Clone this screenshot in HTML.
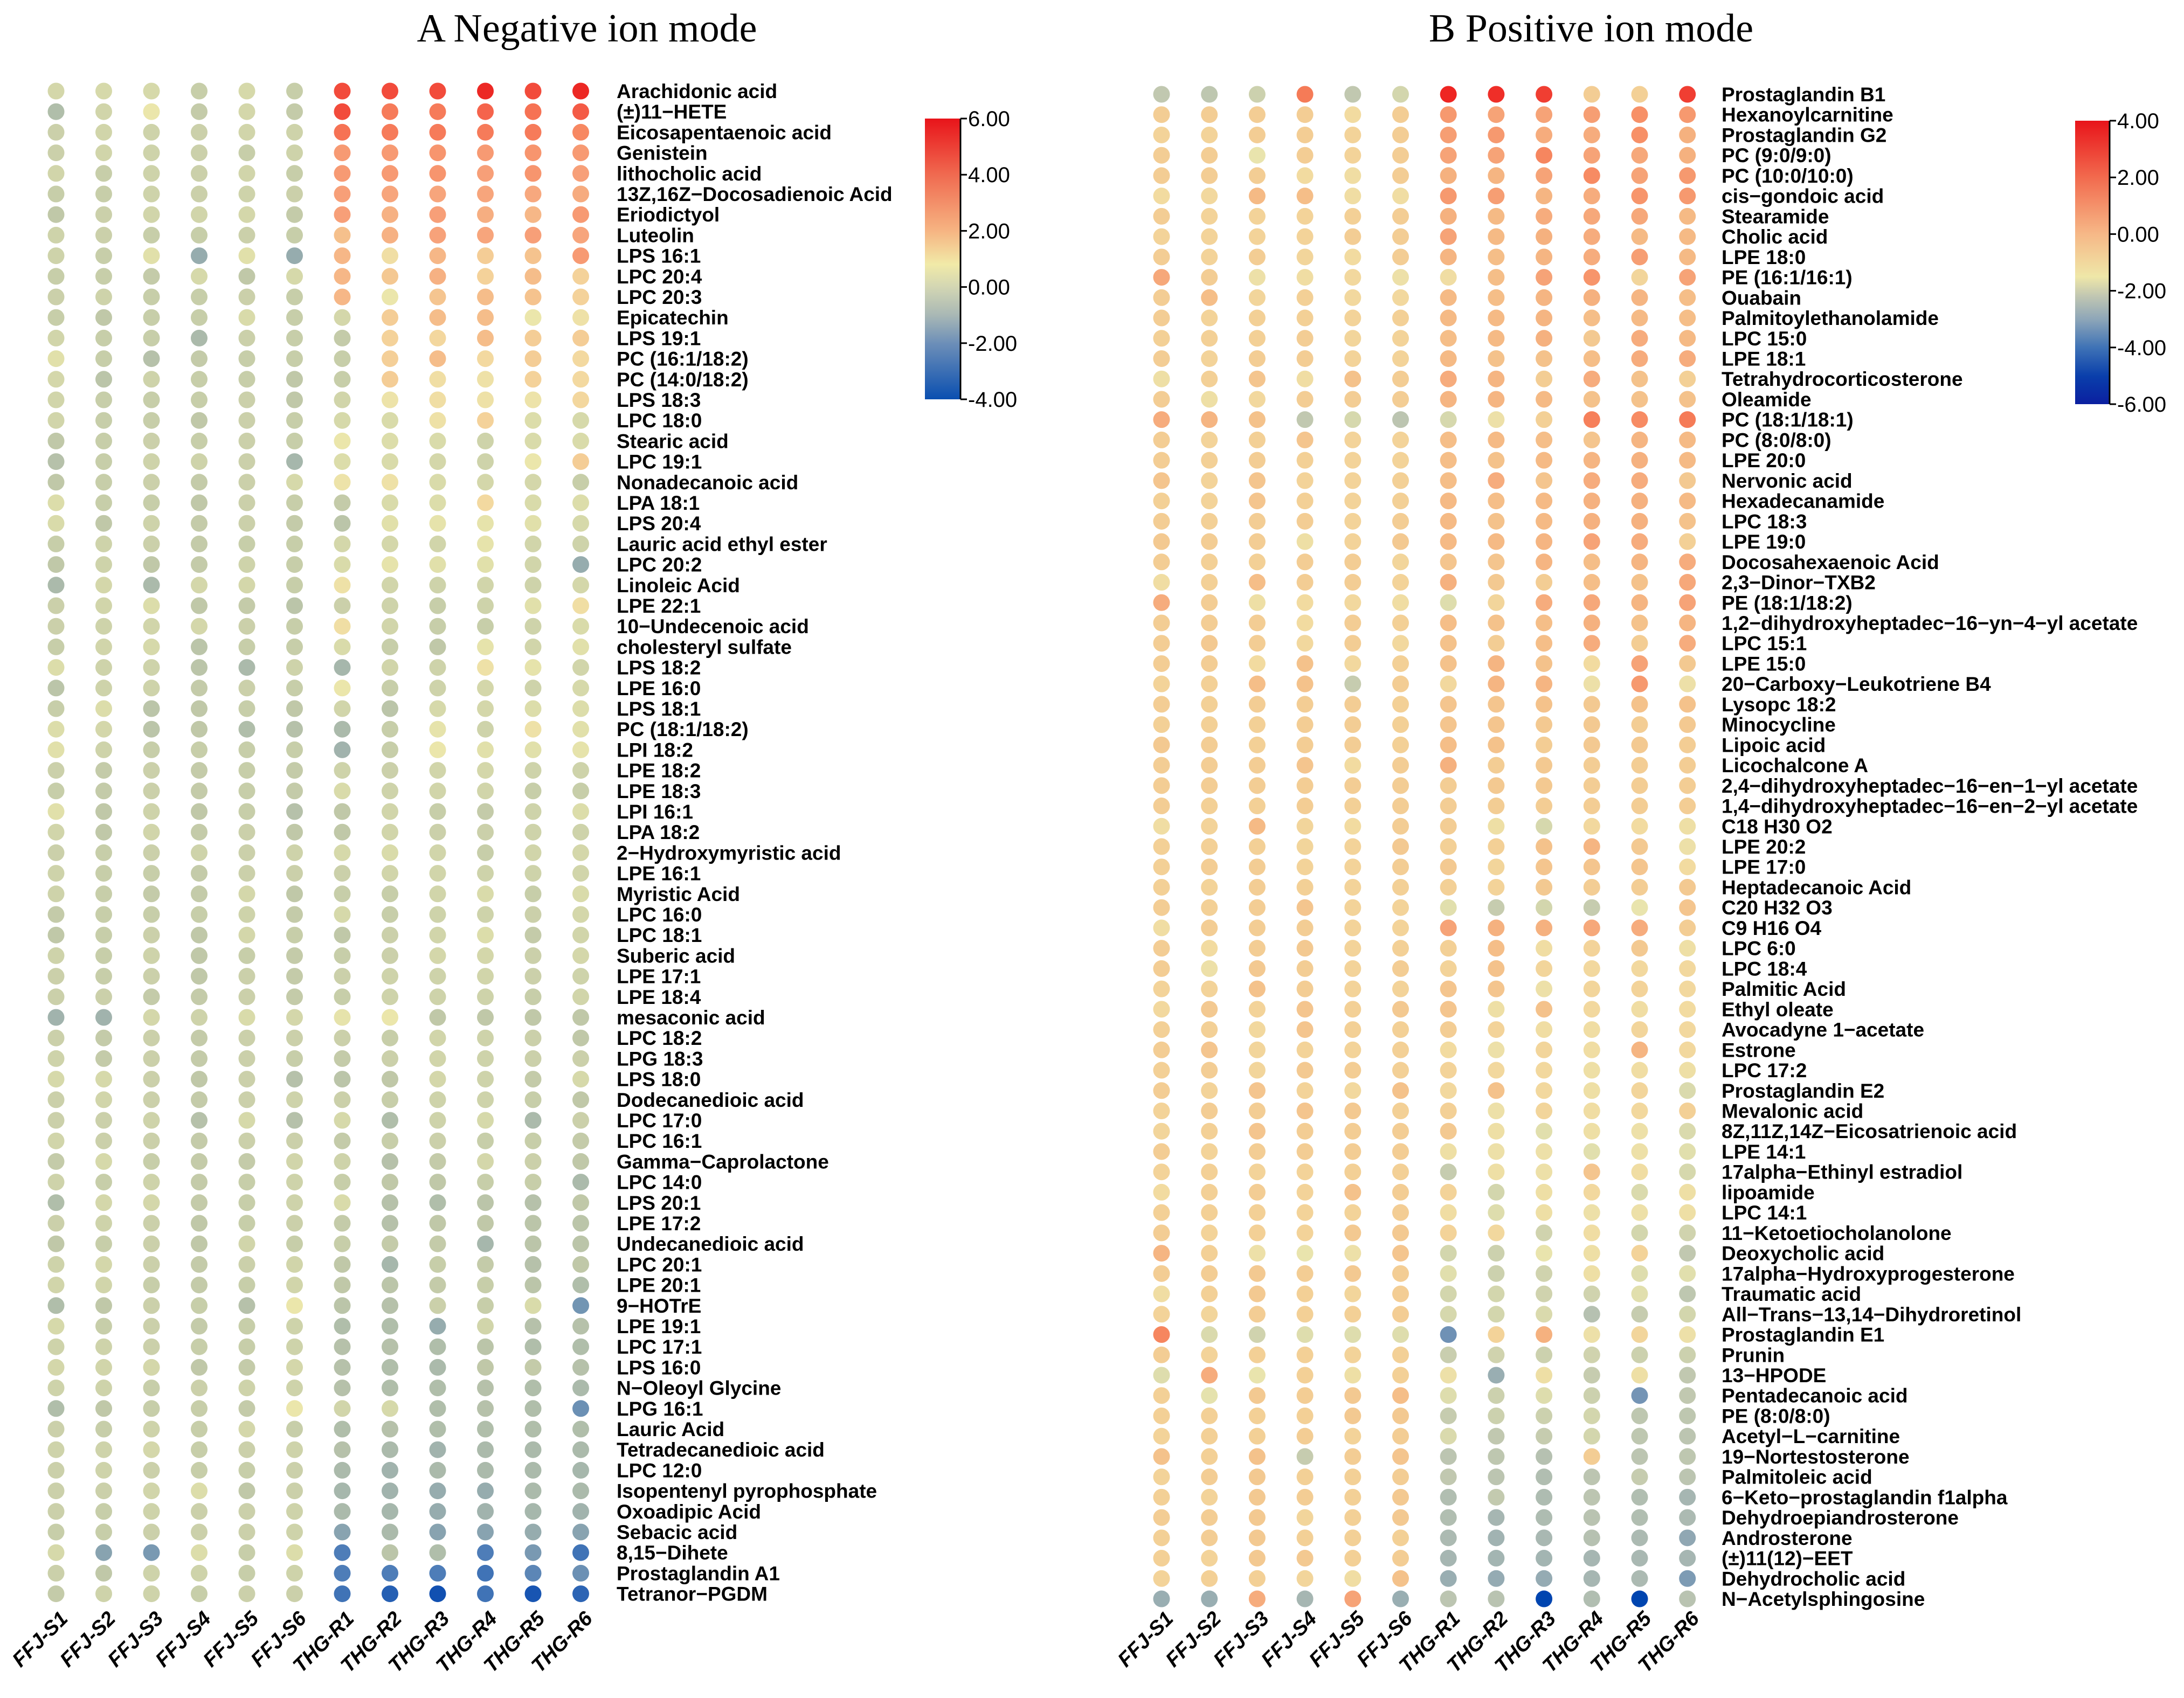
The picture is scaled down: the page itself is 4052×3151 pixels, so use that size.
<!DOCTYPE html>
<html><head><meta charset="utf-8"><style>
html,body{margin:0;padding:0;background:#fff;}
svg{display:block;}
.lbl{font-family:"Liberation Sans",Arial,sans-serif;font-weight:bold;font-size:37px;fill:#000;}
.tick{font-family:"Liberation Sans",Arial,sans-serif;font-size:40px;fill:#000;}
.xl{font-family:"Liberation Sans",Arial,sans-serif;font-weight:bold;font-style:italic;font-size:38px;fill:#000;}
.title{font-family:"Liberation Serif","Times New Roman",serif;font-size:74px;fill:#000;}
</style></head><body>
<svg id="chart" width="4052" height="3151" viewBox="0 0 4052 3151" xmlns="http://www.w3.org/2000/svg">
<defs>
<linearGradient id="gL" x1="0" y1="0" x2="0" y2="1">
<stop offset="0%" stop-color="#e8141a"/><stop offset="20%" stop-color="#f06a50"/><stop offset="40%" stop-color="#f6b482"/><stop offset="52%" stop-color="#f1eaa8"/><stop offset="60%" stop-color="#d3d6b3"/><stop offset="70%" stop-color="#a9b8b5"/><stop offset="80%" stop-color="#6d8fb8"/><stop offset="100%" stop-color="#0a4fb0"/>
</linearGradient>
<linearGradient id="gR" x1="0" y1="0" x2="0" y2="1">
<stop offset="0%" stop-color="#e8141a"/><stop offset="20%" stop-color="#f26a4e"/><stop offset="40%" stop-color="#f6b887"/><stop offset="55%" stop-color="#efe7a8"/><stop offset="62%" stop-color="#c0c6b2"/><stop offset="70%" stop-color="#8ea6b8"/><stop offset="80%" stop-color="#3f73b6"/><stop offset="90%" stop-color="#0a3fab"/><stop offset="100%" stop-color="#0b1fa0"/>
</linearGradient>
</defs>
<text class="title" x="1089" y="77" text-anchor="middle">A Negative ion mode</text>
<text class="title" x="2952" y="77" text-anchor="middle">B Positive ion mode</text>
<g id="left"></g><g id="right"></g>
</svg>
<script>
const samples = ["FFJ-S1","FFJ-S2","FFJ-S3","FFJ-S4","FFJ-S5","FFJ-S6","THG-R1","THG-R2","THG-R3","THG-R4","THG-R5","THG-R6"];
const negMetabolites = ["Arachidonic acid","(±)11\u2212HETE","Eicosapentaenoic acid","Genistein","lithocholic acid","13Z,16Z\u2212Docosadienoic Acid","Eriodictyol","Luteolin","LPS 16:1","LPC 20:4","LPC 20:3","Epicatechin","LPS 19:1","PC (16:1/18:2)","PC (14:0/18:2)","LPS 18:3","LPC 18:0","Stearic acid","LPC 19:1","Nonadecanoic acid","LPA 18:1","LPS 20:4","Lauric acid ethyl ester","LPC 20:2","Linoleic Acid","LPE 22:1","10\u2212Undecenoic acid","cholesteryl sulfate","LPS 18:2","LPE 16:0","LPS 18:1","PC (18:1/18:2)","LPI 18:2","LPE 18:2","LPE 18:3","LPI 16:1","LPA 18:2","2\u2212Hydroxymyristic acid","LPE 16:1","Myristic Acid","LPC 16:0","LPC 18:1","Suberic acid","LPE 17:1","LPE 18:4","mesaconic acid","LPC 18:2","LPG 18:3","LPS 18:0","Dodecanedioic acid","LPC 17:0","LPC 16:1","Gamma\u2212Caprolactone","LPC 14:0","LPS 20:1","LPE 17:2","Undecanedioic acid","LPC 20:1","LPE 20:1","9\u2212HOTrE","LPE 19:1","LPC 17:1","LPS 16:0","N\u2212Oleoyl Glycine","LPG 16:1","Lauric Acid","Tetradecanedioic acid","LPC 12:0","Isopentenyl pyrophosphate","Oxoadipic Acid","Sebacic acid","8,15\u2212Dihete","Prostaglandin A1","Tetranor\u2212PGDM"];
const negValues = [
[-0.6,-0.5,-0.5,-1,-0.5,-1,5,5,5,5.8,5,5.8],
[-1.5,-0.7,0,-1.1,-0.6,-1.1,5,3.8,3.8,4.3,4,4.5],
[-0.9,-0.7,-0.8,-0.9,-0.7,-0.8,4,3.8,3.8,3.8,3.8,3.5],
[-0.9,-0.7,-0.8,-0.9,-1,-0.8,2.8,2.8,3,2.8,3,2.8],
[-0.7,-1,-0.8,-0.9,-0.7,-1,2.8,2.8,3,2.6,3,2.6],
[-1,-1,-0.8,-0.9,-0.8,-0.9,2.6,2.4,2.4,2.4,2.3,2.2],
[-1.2,-0.9,-0.7,-0.7,-0.6,-1.1,2.6,2,2.6,2.1,1.8,2.8],
[-0.8,-0.9,-1,-1,-0.9,-1,1.5,2,2.5,2.4,2.6,2.4],
[-0.8,-1,-0.2,-2,-0.2,-2,1.8,0.3,1.8,1,1.4,2.8],
[-1,-1,-1.1,-0.5,-1.2,-0.5,1.8,1.2,2,0.8,1.6,0.8],
[-0.9,-0.8,-1,-1,-0.9,-1,1.8,0,1.3,1.6,1.4,0.8],
[-1,-1.2,-1,-1,-0.4,-1,-0.6,1,1.6,1.6,0,0.2],
[-0.7,-1,-1,-1.6,-0.9,-1,-1.1,0.8,0.6,1.6,1,1],
[-0.2,-1,-1.4,-1.1,-1,-1,-1,0.9,1.6,0.5,1,0.5],
[-0.6,-1.3,-0.8,-1,-1,-1.2,-1,1,0.3,0.2,0.8,0.5],
[-0.7,-1,-1,-1,-0.9,-1.2,-0.7,0.1,0.3,0.2,0.1,0.6],
[-0.7,-1,-1,-1.2,-0.9,-1,-0.5,-0.4,0.2,0.8,-0.3,-0.5],
[-1.2,-1,-0.9,-1,-0.9,-1,0,-0.3,-0.4,-0.8,-0.4,-0.4],
[-1.4,-1,-0.8,-0.8,-0.9,-1.7,-0.3,-0.4,-0.6,-0.8,0,1],
[-1.2,-1,-0.9,-1.1,-0.9,-0.5,0.1,0.2,-0.4,-0.6,-0.6,-1],
[-0.3,-1,-1,-1.2,-0.9,-1,-1.1,-0.4,-0.3,0.5,-0.4,-0.3],
[-0.4,-1.2,-0.8,-1.1,-0.9,-1.1,-1.3,-0.2,-0.1,-0.1,-0.2,-0.5],
[-1,-0.8,-0.9,-1.1,-1,-1,-0.6,-0.6,-0.7,-0.1,-0.7,-0.8],
[-1.2,-0.8,-1.2,-1.1,-0.8,-1,-0.4,-0.1,-0.2,-0.2,-0.7,-2],
[-1.6,-0.6,-1.6,-0.6,-0.6,-1,0.2,-0.7,-0.8,-0.7,-0.8,-0.6],
[-0.9,-0.7,-0.3,-1.2,-1.1,-1.3,-0.9,-0.8,-1,-0.8,-0.2,0.3],
[-0.9,-0.8,-0.7,-0.6,-0.9,-1,0.3,-0.7,-1,-1,-0.8,-0.4],
[-1,-0.7,-0.5,-1.3,-1,-1,-0.4,-1,-1.2,-0.1,-0.7,-0.2],
[-0.3,-0.8,-0.8,-1.3,-1.6,-0.8,-1.7,-0.7,-0.8,0.2,-0.1,-0.7],
[-1.3,-0.8,-0.8,-1.1,-0.9,-1,0,-1,-0.8,-0.6,-0.8,-0.5],
[-1,-0.3,-1.3,-1.2,-1,-1.2,-0.7,-1.3,-0.5,-0.6,-0.3,-0.3],
[-0.3,-0.6,-1.3,-1.2,-1.5,-1.4,-1.6,-1,-0.1,-0.8,0.2,-0.2],
[-0.2,-0.8,-1,-1,-1,-1,-1.8,-1,0,-0.2,-0.2,-0.1],
[-0.9,-1.1,-0.9,-1.1,-1,-1.1,-0.8,-0.9,-0.7,-0.6,-0.8,-0.8],
[-1,-1.1,-0.9,-1.1,-1,-1.1,-0.4,-0.8,-0.7,-0.7,-1,-1],
[-0.2,-1.2,-0.8,-1.2,-1,-1.4,-1.2,-0.7,-1,-1.1,-0.8,-0.3],
[-0.7,-1.2,-0.7,-1.1,-0.9,-1.2,-1.2,-0.7,-0.9,-0.9,-0.8,-0.8],
[-0.9,-1,-0.9,-0.8,-0.9,-0.8,-0.5,-0.4,-0.7,-1,-0.7,-0.6],
[-0.8,-1,-1,-1.1,-0.9,-0.9,-0.9,-0.7,-0.7,-0.8,-0.8,-0.7],
[-0.8,-1,-1.1,-1.1,-0.6,-1.2,-1,-1,-0.7,-0.4,-1,-0.4],
[-1.1,-1,-1,-1,-0.8,-1.1,-0.5,-1,-0.8,-0.8,-0.9,-0.6],
[-1.2,-1,-0.9,-1.2,-0.6,-1,-1.2,-0.9,-0.7,-0.3,-1.1,-0.7],
[-0.8,-1,-0.8,-1.2,-1,-1.1,-1,-0.9,-0.6,-0.6,-0.9,-0.6],
[-0.9,-1,-0.9,-1.2,-0.9,-1.1,-0.9,-0.8,-0.8,-0.7,-0.9,-0.8],
[-0.9,-0.9,-1.1,-1.1,-0.9,-1.1,-1,-0.8,-0.8,-0.8,-1,-0.7],
[-1.8,-1.8,-0.6,-0.8,-0.4,-0.6,-0.1,0,-1.2,-1.2,-1.2,-1.2],
[-0.9,-1.1,-0.9,-1.1,-0.9,-0.9,-0.9,-1,-0.7,-0.8,-0.9,-1.2],
[-0.8,-1.1,-0.9,-1.1,-0.9,-1,-1.1,-0.9,-0.7,-0.8,-0.9,-0.9],
[-0.5,-0.5,-0.9,-1.2,-0.9,-1.4,-1.3,-1.2,-0.6,-0.8,-1.1,-0.5],
[-0.9,-0.7,-0.9,-1.1,-0.9,-0.8,-0.9,-1,-0.8,-0.8,-1,-1.2],
[-0.9,-0.9,-0.8,-1.4,-0.5,-1.4,-0.5,-1.5,-0.8,-0.5,-1.6,-0.9],
[-0.7,-0.9,-0.9,-1.1,-0.9,-0.9,-1.1,-1,-0.9,-1,-1,-1.1],
[-1.1,-0.5,-1,-1.1,-1.1,-0.7,-0.8,-1.4,-1.1,-0.6,-0.9,-1.2],
[-0.8,-1,-0.8,-1.1,-1,-0.8,-1,-1.2,-1.2,-1,-1,-1.6],
[-1.5,-0.6,-0.6,-1.1,-1,-0.8,-0.4,-1.4,-1.5,-1.3,-1.4,-1.2],
[-0.9,-0.8,-0.9,-1.2,-1,-0.9,-1.1,-1.4,-1.2,-1.2,-1.3,-1.3],
[-1.2,-1,-0.9,-1.2,-0.7,-1,-1,-1.1,-1.1,-1.7,-1.3,-1.3],
[-0.8,-0.6,-0.9,-1.1,-0.9,-0.7,-1.2,-1.7,-1,-1.1,-1.4,-1.2],
[-0.7,-0.7,-1,-1.1,-1,-0.7,-1.2,-1.3,-1.1,-1,-1.3,-1.5],
[-1.5,-1.2,-0.9,-1,-1.4,0,-1.3,-1.4,-0.9,-1,-0.4,-2.5],
[-0.5,-1,-0.9,-1.1,-1,-0.8,-1.5,-1.5,-2,-0.7,-1.4,-1.4],
[-0.8,-0.8,-0.9,-1,-1,-0.8,-1.4,-1.4,-1.5,-1.3,-1.5,-1.5],
[-0.6,-0.7,-0.6,-1.2,-1.1,-0.6,-1.4,-1.5,-1.6,-1.2,-1.1,-1.4],
[-0.8,-0.8,-1,-0.9,-0.8,-0.8,-1.4,-1.5,-1.5,-1.4,-1.5,-1.6],
[-1.5,-1.2,-1,-1,-1.1,0,-0.7,-0.5,-1.5,-1.4,-1.5,-2.6],
[-0.9,-1,-0.8,-1,-0.6,-1,-1.5,-1.4,-1.5,-1.5,-1.5,-1.5],
[-0.8,-0.8,-0.6,-1,-0.9,-0.8,-1.4,-1.6,-1.8,-1.6,-1.6,-1.6],
[-0.9,-0.8,-0.9,-1,-1,-0.9,-1.6,-1.8,-1.6,-1.6,-1.6,-1.7],
[-0.9,-0.9,-0.7,-0.3,-1.2,-0.9,-1.7,-1.8,-2,-2,-1.6,-1.6],
[-0.9,-1,-0.8,-0.9,-0.9,-0.8,-1.6,-1.7,-2,-1.8,-1.7,-1.8],
[-1,-1,-0.9,-0.9,-0.9,-0.8,-2.2,-1.6,-2.2,-2.2,-2,-2.2],
[-0.5,-2.2,-2.4,-0.3,-1,-0.3,-3,-1.3,-1.5,-3,-2.4,-3.2],
[-0.9,-1.2,-0.8,-0.8,-1,-0.8,-3,-3,-3,-3.2,-2.8,-2.6],
[-1.1,-0.8,-0.8,-1,-0.9,-0.9,-3.2,-3.6,-3.9,-3.2,-3.8,-3.5]
];
const posMetabolites = ["Prostaglandin B1","Hexanoylcarnitine","Prostaglandin G2","PC (9:0/9:0)","PC (10:0/10:0)","cis\u2212gondoic acid","Stearamide","Cholic acid","LPE 18:0","PE (16:1/16:1)","Ouabain","Palmitoylethanolamide","LPC 15:0","LPE 18:1","Tetrahydrocorticosterone","Oleamide","PC (18:1/18:1)","PC (8:0/8:0)","LPE 20:0","Nervonic acid","Hexadecanamide","LPC 18:3","LPE 19:0","Docosahexaenoic Acid","2,3\u2212Dinor\u2212TXB2","PE (18:1/18:2)","1,2\u2212dihydroxyheptadec\u221216\u2212yn\u22124\u2212yl acetate","LPC 15:1","LPE 15:0","20\u2212Carboxy\u2212Leukotriene B4","Lysopc 18:2","Minocycline","Lipoic acid","Licochalcone A","2,4\u2212dihydroxyheptadec\u221216\u2212en\u22121\u2212yl acetate","1,4\u2212dihydroxyheptadec\u221216\u2212en\u22122\u2212yl acetate","C18 H30 O2","LPE 20:2","LPE 17:0","Heptadecanoic Acid","C20 H32 O3","C9 H16 O4","LPC 6:0","LPC 18:4","Palmitic Acid","Ethyl oleate","Avocadyne 1\u2212acetate","Estrone","LPC 17:2","Prostaglandin E2","Mevalonic acid","8Z,11Z,14Z\u2212Eicosatrienoic acid","LPE 14:1","17alpha\u2212Ethinyl estradiol","lipoamide","LPC 14:1","11\u2212Ketoetiocholanolone","Deoxycholic acid","17alpha\u2212Hydroxyprogesterone","Traumatic acid","All\u2212Trans\u221213,14\u2212Dihydroretinol","Prostaglandin E1","Prunin","13\u2212HPODE","Pentadecanoic acid","PE (8:0/8:0)","Acetyl\u2212L\u2212carnitine","19\u2212Nortestosterone","Palmitoleic acid","6\u2212Keto\u2212prostaglandin f1alpha","Dehydroepiandrosterone","Androsterone","(±)11(12)\u2212EET","Dehydrocholic acid","N\u2212Acetylsphingosine"];
const posValues = [
[-1.2,-1.3,-0.8,2.8,-1.2,-0.6,3.9,3.8,3.6,1,0.9,3.6],
[1,1,1,1,0.5,1,2.2,2,2,2.1,2.4,2.2],
[0.8,0.8,1,1,0.8,1,2.1,2.2,1.8,1.8,2.4,1.7],
[1,1,0,1,0.8,1,2,2,2.6,2,1.9,1.7],
[1,1,1,0.5,0.4,1,1.7,1.6,2,2.5,2,2.2],
[0.5,0.6,1.5,1.4,0.4,0.4,2.2,2.1,1.6,1.8,2.3,2.2],
[1,0.8,0.8,0.8,0.9,1,1.7,1.5,1.8,1.9,1.9,1.5],
[0.8,0.8,0.8,0.8,1,1,2,1.5,1.7,1.8,1.5,1.5],
[1,0.8,1,0.7,0.5,1,1.6,1.4,1.6,1.8,2.1,1.5],
[1.9,1,0.2,0.4,0.6,0.2,0.4,1.4,2,2.3,0.7,2],
[1,1.4,0.7,0.9,0.6,0.6,1.5,1.4,1.6,1.7,1.6,1.4],
[1,0.8,0.9,0.9,0.8,0.9,1.5,1.5,1.6,1.4,1.5,1.4],
[0.9,0.9,0.9,1,0.7,0.8,1.4,1.5,1.7,1.1,1.8,1.5],
[1,0.8,1,1,0.8,0.8,1.5,1.3,1.3,1.4,1.8,1.8],
[0.3,0.9,1.2,0.4,1.3,1,1.8,1.6,1,1.8,1.3,0.9],
[1,0.3,0.6,1,1,1,1.6,1.6,1.5,1.3,1.3,1.3],
[1.8,1.6,1.3,-1.2,-0.5,-1.4,-0.5,0.2,0.9,2.7,2.5,2.8],
[1,0.8,0.9,1.2,0.8,0.8,1.4,1.5,1.4,1.2,1.6,1.5],
[1,0.9,1,0.9,0.8,0.8,1.4,1.3,1.5,1.6,1.7,1.5],
[1.2,0.8,1.2,0.8,0.8,0.9,1.4,1.8,1.2,1.8,1.8,1.1],
[0.9,0.8,1.2,0.9,0.8,0.9,1.5,1.4,1.5,1.7,1.7,1.5],
[1,0.9,1,1,0.8,1,1.5,1.3,1.5,1.7,1.7,1.3],
[1.1,1,1,0.3,0.8,1.1,1.5,1.5,1.6,2,1.8,0.9],
[1,0.9,0.9,1,1,0.7,1.2,1.2,1.6,1.4,1.6,1.8],
[0.4,0.9,1.4,1,1,0.8,1.7,1.1,1,1.4,1.3,1.9],
[1.8,1,0.3,0.5,0.6,0.4,-0.3,0.7,1.8,1.9,1.6,2],
[1,1,1,0.5,1,0.9,1.4,1.3,1.4,1.7,1.3,1.6],
[1,1.1,1,0.6,1,0.6,1.3,1,1.4,1.8,1,1.8],
[1,1,0.5,1.3,0.6,0.9,1.3,1.6,1.3,0.5,2,1.1],
[0.8,0.9,1.4,1.3,-1,1,0.6,1.6,1.6,0.2,2.2,0.2],
[1,0.9,1,1,1,0.9,1.2,1.2,1.3,1.1,1.3,1.3],
[0.9,0.9,0.9,1,1,0.9,1.2,1.2,1.1,1.1,1,1.1],
[1.1,1,0.9,1,1,0.9,1.4,1.3,1,1.1,1.1,1],
[1,1,1,1.2,0.5,1,1.7,1,1.1,1,1,1],
[1,1,1,1,1,1,1,1.1,1.1,1,1,1],
[1,0.9,0.9,1,0.9,1,1,1,1,1,1,1],
[0.4,0.8,1.5,0.7,0.5,1,1,0.3,-0.5,0.6,0.5,0.3],
[0.9,0.9,0.9,0.7,0.8,1.1,0.9,0.9,1.3,1.6,1.1,0.2],
[0.9,1,1,0.8,0.8,1,1.1,0.7,1.2,1.2,1.2,0.5],
[0.9,0.8,1,0.9,0.8,0.9,0.9,0.8,1.1,1,1,1.1],
[1,0.9,1,1.2,0.8,0.8,-0.2,-1,-0.6,-1,0,1.2],
[0.4,1,1,1,0.8,0.8,2,1.7,1.7,1.9,1.8,1],
[1,0.5,1,1.1,0.8,0.9,0.9,1.4,0.4,0.8,1.1,0.3],
[1,0.2,1.1,1,0.8,1,0.8,1.3,0.7,0.6,0.6,0.6],
[0.8,0.8,1.3,1,0.8,0.8,1.2,1.2,0.2,0.7,0.8,0.6],
[0.6,1.1,0.8,1.2,0.9,1.1,1.2,0.3,1.3,0.6,0.4,0.5],
[0.9,0.9,0.6,1.2,0.9,0.9,1,0.8,0.4,0.4,0.7,0.6],
[1,1.2,0.7,0.8,0.8,0.9,0.5,0.2,0.7,0.4,1.6,0.6],
[0.9,1,0.7,1.1,1,0.9,0.8,0.6,0.6,0.3,0.4,0.3],
[1,0.8,1.2,0.8,0.6,1.3,0.6,1.3,0.6,0.3,0.7,-0.4],
[0.8,1,1,1.2,1.1,0.9,0.9,0.2,0.7,0.4,0.6,0.9],
[0.7,0.9,1.2,1,1,1,1.1,0.3,-0.2,0.3,0.2,-0.4],
[1,0.8,1,1,1,1,0.3,0.2,0.2,-0.2,0.2,-0.2],
[0.8,0.9,0.8,0.8,0.9,0.9,-1,0.3,0.2,1.2,0.4,-0.5],
[0.5,0.9,1,0.8,1.3,1,0.8,-0.6,0.3,0.6,-0.4,0.3],
[0.9,0.9,0.9,0.8,0.8,1,0.4,-0.3,0.3,0.2,0.2,0.3],
[1,0.8,0.9,0.8,1.1,1.1,0.8,0.6,-0.7,0.4,-0.6,-0.7],
[1.6,0.9,0.2,0,0.2,1.2,-0.6,-0.8,0,0.3,0.8,-1.2],
[1,1,1.1,1,1.1,1,-0.2,-0.8,-0.7,0.3,-0.3,-0.2],
[0.4,0.9,1.1,0.9,0.7,1,-0.6,-0.6,-0.7,-0.7,-0.2,-1.3],
[0.8,0.7,1,0.9,0.9,1,-0.5,-0.6,-0.4,-1.6,-1,-0.6],
[2.6,-0.4,-0.7,-0.3,-0.3,-0.3,-3.5,0.8,1.7,0.2,0.7,0.2],
[1,0.8,0.9,0.9,0.8,0.9,-0.9,-0.7,-0.8,-0.7,-0.8,-0.8],
[-0.3,1.8,0,0.9,0.3,0.9,0.2,-2.6,0.3,-1,0.3,-1.2],
[0.9,-0.1,1.1,1,1.1,1.4,-0.3,-0.8,-0.3,-0.8,-3.4,-1.2],
[0.9,0.9,0.9,0.9,1.1,1.1,-1,-0.8,-0.8,-0.6,-1.3,-1.3],
[0.8,0.9,0.9,1,0.8,1,-0.4,-1.2,-1,-0.6,-1.3,-1.4],
[1.3,0.9,1.3,-1,1,1.2,-1.4,-1.3,-1.6,1,-1.4,-1.3],
[0.8,1,1.1,0.9,0.9,1,-1.2,-1.4,-1.8,-1.4,-1,-1.4],
[0.9,0.8,1.1,1,0.9,1.1,-1.8,-1.1,-1.9,-1.4,-1.8,-2.2],
[1,1,1.1,0.7,0.9,1.1,-1.8,-2.2,-1.9,-1.5,-1.8,-2],
[0.9,1,1.1,0.9,0.9,0.9,-2,-2.4,-2.1,-1.6,-2,-2.8],
[0.9,0.8,1.1,1.1,0.9,1,-2.2,-2.3,-2.3,-2.2,-2.1,-2.2],
[0.8,0.9,0.9,0.7,0.4,1.3,-2.6,-2.7,-2.7,-2.2,-2,-3.2],
[-2.6,-2.6,1.8,-2.2,2,-2.6,-1.4,-1.5,-6,-1.8,-6,-1.5]
];
const negTicks = [6,4,2,0,-2,-4];
const posTicks = [4,2,0,-2,-4,-6];

const NS = "http://www.w3.org/2000/svg";
const negStops = [[-4,"#0a4bb0"],[-3,"#4e7db8"],[-2,"#96acae"],[-1.2,"#c0c8a8"],[-0.8,"#ced3aa"],[-0.3,"#dcddaa"],[0,"#ebe6ab"],[0.5,"#f3d9a0"],[1.5,"#f5c08c"],[2.5,"#f7a27a"],[3.5,"#f78862"],[4.5,"#f45b46"],[5.5,"#ef3a30"],[6,"#ea1c1c"]];
const posStops = [[-6,"#0045b0"],[-3.5,"#6f91b5"],[-2.5,"#9eb1b2"],[-1.5,"#b9c3b1"],[-1,"#c6ccaf"],[-0.5,"#d6d8ad"],[0,"#e9e4ad"],[0.5,"#f2dba0"],[1,"#f3cd94"],[1.5,"#f5ba85"],[2,"#f6a377"],[2.5,"#f78b63"],[3,"#f4704f"],[3.8,"#ef2e28"],[4,"#ec1c1c"]];
function hex(h){return [parseInt(h.substr(1,2),16),parseInt(h.substr(3,2),16),parseInt(h.substr(5,2),16)];}
function cmap(stops,v){
  if(v<=stops[0][0]) return stops[0][1];
  for(let i=1;i<stops.length;i++){
    if(v<=stops[i][0]){
      const t=(v-stops[i-1][0])/(stops[i][0]-stops[i-1][0]);
      const a=hex(stops[i-1][1]),b=hex(stops[i][1]);
      return "rgb("+a.map((c,k)=>Math.round(c+(b[k]-c)*t)).join(",")+")";
    }
  }
  return stops[stops.length-1][1];
}
function mk(tag,attrs,parent){const e=document.createElementNS(NS,tag);for(const k in attrs)e.setAttribute(k,attrs[k]);parent.appendChild(e);return e;}

function panel(g,cfg){
  const xScale=i=>cfg.x0+i*cfg.dx;
  const yScale=j=>cfg.y0+j*cfg.dy;
  cfg.names.forEach((name,j)=>{
    cfg.vals[j].forEach((v,i)=>{
      const c=mk("ellipse",{cx:xScale(i),cy:yScale(j),rx:15.5,ry:15.5,fill:cmap(cfg.stops,v)},g);
      
      
    });
    const t=mk("text",{x:cfg.lx,y:yScale(j)+13,class:"lbl"},g);
    t.textContent=name;
    
    
  });
  samples.forEach((s,i)=>{
    const x=xScale(i)+24, y=3006;
    const t=mk("text",{x:x,y:y,class:"xl","text-anchor":"end",transform:"rotate(-45 "+x+" "+y+")"},g);
    t.textContent=s;
    
    
  });
  const cb=mk("rect",{x:cfg.cbx,y:cfg.cby,width:cfg.cbw,height:cfg.cbh,fill:"url(#"+cfg.grad+")"},g);
  
  
  const ax=mk("line",{x1:cfg.cbx+cfg.cbw,y1:cfg.cby,x2:cfg.cbx+cfg.cbw,y2:cfg.cby+cfg.cbh,stroke:"#000","stroke-width":3},g);
  
  
  const tmax=cfg.ticks[0],tmin=cfg.ticks[cfg.ticks.length-1];
  const cy=v=>cfg.cby+(tmax-v)/(tmax-tmin)*cfg.cbh;
  cfg.ticks.forEach(v=>{
    const ln=mk("line",{x1:cfg.cbx+cfg.cbw,y1:cy(v),x2:cfg.cbx+cfg.cbw+12,y2:cy(v),stroke:"#000","stroke-width":3},g);
    
    
    const t=mk("text",{x:cfg.cbx+cfg.cbw+14,y:cy(v)+14,class:"tick"},g);
    t.textContent=v.toFixed(2);
    
    
  });
}
panel(document.getElementById("left"),{key:"neg",names:negMetabolites,vals:negValues,stops:negStops,x0:104,dx:88.5,y0:169,dy:38.2,lx:1144,cbx:1716,cby:220,cbw:66,cbh:521,grad:"gL",ticks:negTicks});
panel(document.getElementById("right"),{key:"pos",names:posMetabolites,vals:posValues,stops:posStops,x0:2155,dx:88.7,y0:175,dy:37.73,lx:3194,cbx:3850,cby:224,cbw:64,cbh:526,grad:"gR",ticks:posTicks});
</script>
</body></html>
